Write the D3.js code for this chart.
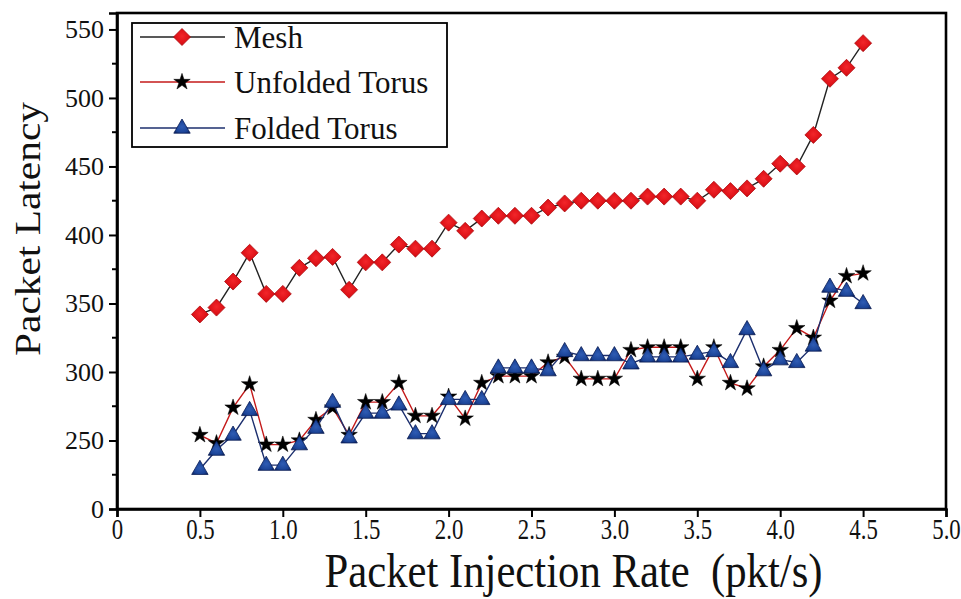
<!DOCTYPE html>
<html>
<head>
<meta charset="utf-8">
<script src="https://cdn.jsdelivr.net/npm/d3@7"></script>
<style>
  html, body { margin: 0; padding: 0; background: #fff; }
  svg { display: block; }
  text { font-family: "Liberation Serif", "Times New Roman", serif; fill: #111; }
</style>
</head>
<body>
<svg id="chart" width="961" height="599"></svg>
<script>
// Injection rates (pkt/s)
const rates = [0.5,0.6,0.7,0.8,0.9,1.0,1.1,1.2,1.3,1.4,
               1.5,1.6,1.7,1.8,1.9,2.0,2.1,2.2,2.3,2.4,
               2.5,2.6,2.7,2.8,2.9,3.0,3.1,3.2,3.3,3.4,
               3.5,3.6,3.7,3.8,3.9,4.0,4.1,4.2,4.3,4.4,4.5];

// Packet latency per topology
const meshLatency = [342,347,366,387,357,357,376,383,384,360,
                     380,380,393,390,390,409,403,412,414,414,
                     414,420,423,425,425,425,425,428,428,428,
                     425,433,432,434,441,452,450,473,514,522,540];
const unfoldedLatency = [254,248,274,291,247,247,250,265,274,254,
                         278,278,292,268,268,282,266,292,297,297,
                         297,307,311,295,295,295,316,318,318,318,
                         295,318,292,288,304,316,332,325,352,370,372];
const foldedLatency = [229,243,254,272,232,232,247,259,278,252,
                       270,270,276,255,255,280,280,280,303,303,
                       303,301,315,312,312,312,306,311,311,311,
                       313,315,307,331,301,309,307,319,362,359,350];

// Axis ticks (the y axis is broken: its lowest tick stands for 0)
const xTicks = [0,0.5,1.0,1.5,2.0,2.5,3.0,3.5,4.0,4.5,5.0];
const xTickLabels = ["0","0.5","1.0","1.5","2.0","2.5","3.0","3.5","4.0","4.5","5.0"];
const yTicks = [200,250,300,350,400,450,500,550];
const yTickLabels = ["0","250","300","350","400","450","500","550"];
const yMinorTicks = [225,275,325,375,425,475,525];

const seriesNames = ["Mesh","Unfolded Torus","Folded Torus"];

const svg = d3.select("#chart");
const plotLeft = 117, plotRight = 946, plotTop = 13, plotBottom = 509;

const x = d3.scaleLinear().domain([0, 5]).range([plotLeft, plotRight]);
const y = d3.scaleLinear().domain([200, 562]).range([plotBottom, plotTop]);

// gradients for markers
const defs = svg.append("defs");
const rg = defs.append("radialGradient").attr("id","redGrad").attr("cx","50%").attr("cy","45%").attr("r","60%");
rg.append("stop").attr("offset","0%").attr("stop-color","#f2262a");
rg.append("stop").attr("offset","70%").attr("stop-color","#dc1016");
rg.append("stop").attr("offset","100%").attr("stop-color","#a80a0e");
const bg = defs.append("radialGradient").attr("id","blueGrad").attr("cx","50%").attr("cy","55%").attr("r","60%");
bg.append("stop").attr("offset","0%").attr("stop-color","#2f5cb4");
bg.append("stop").attr("offset","70%").attr("stop-color","#1b4396");
bg.append("stop").attr("offset","100%").attr("stop-color","#0c2462");

// frame
svg.append("rect")
  .attr("x", plotLeft).attr("y", plotTop)
  .attr("width", plotRight - plotLeft).attr("height", plotBottom - plotTop)
  .attr("fill", "none").attr("stroke", "#000").attr("stroke-width", 2.6);

// x axis (labels are narrowed horizontally around their tick)
const xAxis = svg.append("g")
  .attr("transform", `translate(0,${plotBottom})`)
  .call(d3.axisBottom(x).tickValues(xTicks).tickSize(8).tickPadding(1)
        .tickFormat((d, i) => xTickLabels[i]));
xAxis.select(".domain").attr("stroke-width", 2.6);
xAxis.selectAll(".tick line").attr("stroke-width", 2);
xAxis.selectAll("text")
  .attr("font-size", 30)
  .attr("font-family", "Liberation Serif, serif")
  .attr("transform", "scale(0.76,1)");

// y axis
const yAxis = svg.append("g")
  .attr("transform", `translate(${plotLeft},0)`)
  .call(d3.axisLeft(y).tickValues(yTicks).tickSize(8).tickPadding(5)
        .tickFormat((d, i) => yTickLabels[i]));
yAxis.select(".domain").attr("stroke-width", 2.6);
yAxis.selectAll(".tick line").attr("stroke-width", 2);
yAxis.selectAll("text").attr("font-size", 26).attr("font-family", "Liberation Serif, serif");
yAxis.selectAll(".minor").data(yMinorTicks).enter().append("line")
  .attr("class", "minor")
  .attr("x1", -5).attr("x2", 0)
  .attr("y1", d => y(d)).attr("y2", d => y(d))
  .attr("stroke", "#000").attr("stroke-width", 2);

// axis titles
svg.append("text")
  .attr("x", (plotLeft + plotRight) / 2 + 42).attr("y", 587)
  .attr("text-anchor", "middle")
  .attr("font-size", 48)
  .attr("textLength", 498).attr("lengthAdjust", "spacingAndGlyphs")
  .text("Packet Injection Rate\u00a0\u00a0(pkt/s)");

svg.append("text")
  .attr("transform", "translate(40,229) scale(0.88,1) rotate(-90)")
  .attr("text-anchor", "middle")
  .attr("font-size", 41)
  .attr("textLength", 254).attr("lengthAdjust", "spacingAndGlyphs")
  .text("Packet Latency");

// marker shapes
const diamond = "M0,-8.5L8.5,0L0,8.5L-8.5,0Z";
const star = d3.symbol().type(d3.symbolStar).size(84)();
const triangle = "M0,-9L8.2,5.2L-8.2,5.2Z";

const series = [
  { name: seriesNames[0], values: meshLatency, line: "#222", shape: diamond, fill: "url(#redGrad)", stroke: "#b00c10", sw: 0.8 },
  { name: seriesNames[1], values: unfoldedLatency, line: "#c41a1a", shape: star, fill: "#000", stroke: "#000", sw: 0.5 },
  { name: seriesNames[2], values: foldedLatency, line: "#1c2f6e", shape: triangle, fill: "url(#blueGrad)", stroke: "#0a1d55", sw: 0.8 }
];

const lineGen = d3.line().x(d => x(d[0])).y(d => y(d[1]));

series.forEach(s => {
  const pts = rates.map((r, i) => [r, s.values[i]]);
  const g = svg.append("g");
  g.append("path").attr("d", lineGen(pts))
    .attr("fill", "none").attr("stroke", s.line).attr("stroke-width", 1.4);
  g.selectAll("path.m").data(pts).enter().append("path")
    .attr("class", "m")
    .attr("d", s.shape)
    .attr("transform", d => `translate(${x(d[0])},${y(d[1])})`)
    .attr("fill", s.fill).attr("stroke", s.stroke).attr("stroke-width", s.sw);
});

// legend
const lg = svg.append("g");
lg.append("rect").attr("x", 132).attr("y", 23).attr("width", 315).attr("height", 124)
  .attr("fill", "#fff").attr("stroke", "#000").attr("stroke-width", 1.8);
const legendY = [37, 82, 128];
series.forEach((s, i) => {
  const yy = legendY[i];
  lg.append("line").attr("x1", 140).attr("x2", 225).attr("y1", yy).attr("y2", yy)
    .attr("stroke", s.line).attr("stroke-width", 1.4);
  lg.append("path").attr("d", s.shape).attr("transform", `translate(182,${yy})`)
    .attr("fill", s.fill).attr("stroke", s.stroke).attr("stroke-width", s.sw);
  lg.append("text").attr("x", 234).attr("y", yy + 11).attr("font-size", 31).text(s.name);
});
</script>
</body>
</html>
